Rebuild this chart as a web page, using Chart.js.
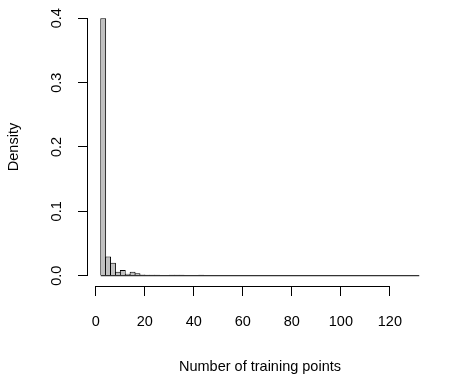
<!DOCTYPE html>
<html>
<head>
<meta charset="utf-8">
<script src="https://cdn.jsdelivr.net/npm/chart.js@4.4.1/dist/chart.umd.min.js"></script>
<style>
  body { margin: 0; background: #fff; }
  canvas { display: block; }
</style>
</head>
<body>
<canvas id="myChart" width="459" height="381"></canvas>
<script>
// histogram bins (width 2), from 2 to 132
var binMids = [3, 5, 7, 9, 11, 13, 15, 17, 19, 21, 23, 25, 27, 29, 31, 33, 35, 37, 39, 41,
  43, 45, 47, 49, 51, 53, 55, 57, 59, 61, 63, 65, 67, 69, 71, 73, 75, 77, 79, 81,
  83, 85, 87, 89, 91, 93, 95, 97, 99, 101, 103, 105, 107, 109, 111, 113, 115, 117, 119, 121,
  123, 125, 127, 129, 131];
var densities = [0.400, 0.030, 0.020, 0.006, 0.009, 0.003, 0.006, 0.004, 0.002, 0.0015,
  0.0015, 0.0015, 0, 0, 0.0015, 0.0015, 0.0015, 0, 0, 0,
  0.0015, 0, 0, 0, 0, 0, 0, 0, 0, 0,
  0, 0, 0, 0, 0, 0, 0, 0, 0, 0,
  0, 0, 0, 0, 0, 0, 0, 0, 0, 0,
  0, 0, 0, 0, 0, 0, 0, 0, 0, 0,
  0, 0, 0, 0, 0];
var breaksRange = [2, 132];
var xTicks = [0, 20, 40, 60, 80, 100, 120];
var yTicks = [0, 0.1, 0.2, 0.3, 0.4];

var FONT = 'Liberation Sans, Arial, Helvetica, sans-serif';
Chart.defaults.font.family = FONT;
Chart.defaults.font.size = 14.5;
Chart.defaults.color = '#000';

var barData = binMids.map(function (m, i) { return { x: m, y: densities[i] }; });

function noPad(s) {
  s.paddingTop = 0; s.paddingBottom = 0; s.paddingLeft = 0; s.paddingRight = 0;
}

// R-style axis lines, only between first and last tick
var rAxes = {
  id: 'rAxes',
  afterDraw: function (chart) {
    var ctx = chart.ctx;
    var xs = chart.scales.x, ys = chart.scales.y;
    ctx.save();
    ctx.strokeStyle = '#000';
    ctx.lineWidth = 1;
    ctx.beginPath();
    var yb = Math.round(xs.top) + 0.5;
    ctx.moveTo(xs.getPixelForValue(xTicks[0]), yb);
    ctx.lineTo(xs.getPixelForValue(xTicks[xTicks.length - 1]), yb);
    var xl = Math.round(ys.right) - 0.5;
    ctx.moveTo(xl, ys.getPixelForValue(yTicks[0]));
    ctx.lineTo(xl, ys.getPixelForValue(yTicks[yTicks.length - 1]));
    ctx.stroke();
    ctx.restore();
  }
};

var ctx = document.getElementById('myChart').getContext('2d');
var myChart = new Chart(ctx, {
  type: 'bar',
  data: {
    datasets: [{
      type: 'line',
      data: [{ x: breaksRange[0], y: 0 }, { x: breaksRange[1], y: 0 }],
      borderColor: '#000',
      borderWidth: 1,
      pointRadius: 0,
      order: 0
    }, {
      data: barData,
      backgroundColor: '#c0c0c0',
      borderColor: '#000',
      // bars overlap by ~1px so that neighbouring edges share one line
      borderWidth: { left: 1, top: 1, right: 1, bottom: 0 },
      borderSkipped: false,
      barPercentage: 1.2,
      categoryPercentage: 1,
      order: 1
    }]
  },
  options: {
    responsive: false,
    animation: false,
    plugins: { legend: { display: false }, tooltip: { enabled: false } },
    layout: { padding: { top: 8, right: 27, left: 0, bottom: 0 } },
    scales: {
      x: {
        type: 'linear',
        offset: false,
        min: -3.2,
        max: 137.2,
        afterBuildTicks: function (s) { s.ticks = xTicks.map(function (v) { return { value: v }; }); },
        afterFit: function (s) { s.height = 95; noPad(s); },
        ticks: { padding: 17, maxRotation: 0, autoSkip: false },
        grid: { drawOnChartArea: false, offset: false, tickLength: 10, color: '#000' },
        border: { display: false },
        title: { display: true, text: 'Number of training points', padding: { top: 5, bottom: 5 } }
      },
      y: {
        min: -0.016,
        max: 0.416,
        afterBuildTicks: function (s) { s.ticks = yTicks.map(function (v) { return { value: v }; }); },
        afterFit: function (s) { s.width = 88; noPad(s); },
        ticks: {
          padding: 11,
          minRotation: 90,
          maxRotation: 90,
          crossAlign: 'center',
          callback: function (v) { return v.toFixed(1); }
        },
        grid: { drawOnChartArea: false, tickLength: 10, color: '#000' },
        border: { display: false },
        title: { display: true, text: 'Density', padding: { top: 5, bottom: 5 } }
      }
    }
  },
  plugins: [rAxes]
});
</script>
</body>
</html>
